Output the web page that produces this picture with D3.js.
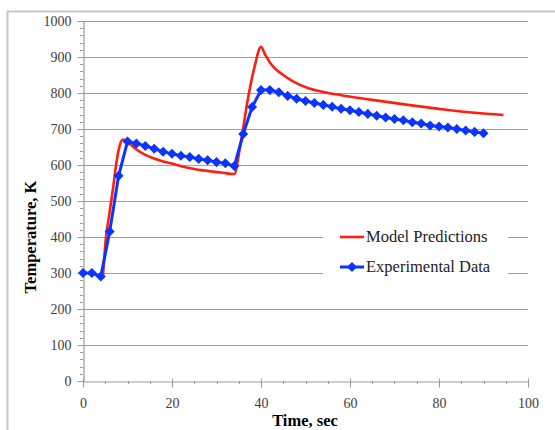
<!DOCTYPE html>
<html>
<head>
<meta charset="utf-8">
<script src="https://cdn.jsdelivr.net/npm/d3@7"></script>
<style>
  body { margin: 0; background: #fff; }
</style>
</head>
<body>
<svg id="chart" width="555" height="430"></svg>
<script>
// experimental data, one point every 2 s
let exp_time = [0, 2, 4, 6, 8, 10, 12, 14, 16, 18, 20, 22, 24, 26, 28, 30, 32, 34, 36, 38,
    40, 42, 44, 46, 48, 50, 52, 54, 56, 58, 60, 62, 64, 66, 68, 70, 72, 74, 76, 78,
    80, 82, 84, 86, 88, 90]
let exp_temp = [300, 300, 290, 415, 570, 665, 660, 653, 645, 637, 631, 626, 622, 617, 613, 608, 605, 597, 686, 761,
    808, 808, 802, 792, 784, 778, 772, 767, 762, 756, 752, 747, 742, 737, 732, 728, 724, 719, 715, 710,
    707, 704, 700, 696, 692, 688]

// model curve
let model_time = [4.5, 5.1, 6.0, 6.8, 7.6, 8.3, 8.9, 10, 12, 14, 16, 18, 20, 23, 27, 31, 34,
    35.3, 37, 38.5, 40, 41, 42, 43, 45, 47.5, 50.5, 54, 58, 65, 73, 80, 88, 94.5]
let model_temp = [293, 392, 470, 540, 614, 656, 671, 664, 643, 628, 618, 610, 604, 594, 585, 579, 575,
    650, 780, 870, 928, 905, 885, 870, 850, 830, 814, 803, 794, 781, 767, 756, 745, 739]

let x_ticks = [0, 20, 40, 60, 80, 100]
let y_ticks = [0, 100, 200, 300, 400, 500, 600, 700, 800, 900, 1000]
let legend_labels = ["Model Predictions", "Experimental Data"]

const RED = "#ff1f10"
const BLUE = "#0b35ff"
const SERIF = "'Liberation Serif', 'Times New Roman', Times, serif"

let svg = d3.select("#chart")

// outer frame
svg.append("rect")
    .attr("x", 7.5).attr("y", 11.5)
    .attr("width", 600).attr("height", 500)
    .attr("fill", "none")
    .attr("stroke", "#c8c8c8")
    .attr("stroke-width", 2)

let x = d3.scaleLinear().domain([0, 100]).range([83, 528])
let y = d3.scaleLinear().domain([0, 1000]).range([381, 21])

// horizontal grid
svg.append("g")
    .selectAll("line")
    .data(y_ticks.slice(1))
    .join("line")
    .attr("x1", x(0)).attr("x2", x(100))
    .attr("y1", d => Math.round(y(d)) + 0.5)
    .attr("y2", d => Math.round(y(d)) + 0.5)
    .attr("stroke", "#a0a0a0")
    .attr("stroke-width", 1.2)

// minor ticks
let y_minor = d3.range(0, 1001, 20)
svg.append("g")
    .selectAll("line")
    .data(y_minor)
    .join("line")
    .attr("x1", x(0) - 3).attr("x2", x(0))
    .attr("y1", d => Math.round(y(d)) + 0.5)
    .attr("y2", d => Math.round(y(d)) + 0.5)
    .attr("stroke", "#999")
let x_minor = d3.range(0, 101, 5)
svg.append("g")
    .selectAll("line")
    .data(x_minor)
    .join("line")
    .attr("x1", d => Math.round(x(d)) + 0.5)
    .attr("x2", d => Math.round(x(d)) + 0.5)
    .attr("y1", y(0)).attr("y2", y(0) + 3)
    .attr("stroke", "#999")

// axes
let x_axis = d3.axisBottom(x).tickValues(x_ticks).tickFormat(d3.format("d"))
    .tickSize(6).tickSizeOuter(0).tickPadding(11)
let y_axis = d3.axisLeft(y).tickValues(y_ticks).tickFormat(d3.format("d"))
    .tickSize(6).tickSizeOuter(0).tickPadding(6)

let gx = svg.append("g")
    .attr("transform", "translate(0," + (Math.round(y(0)) + 0.5) + ")")
    .call(x_axis)
gx.select(".domain").attr("stroke", "#999").attr("stroke-width", 1.2)
gx.selectAll(".tick line").attr("stroke", "#999").attr("y1", -3)
gx.selectAll(".tick text")
    .attr("fill", "#404040")
    .style("font-family", SERIF)
    .style("font-size", "14px")

let gy = svg.append("g")
    .attr("transform", "translate(" + (Math.round(x(0)) + 0.5) + ",0)")
    .call(y_axis)
gy.select(".domain").attr("stroke", "#999").attr("stroke-width", 1.2)
gy.selectAll(".tick line").attr("stroke", "#999")
gy.selectAll(".tick text")
    .attr("fill", "#404040")
    .style("font-family", SERIF)
    .style("font-size", "14px")

// axis titles
svg.append("text")
    .attr("x", 305).attr("y", 426)
    .attr("text-anchor", "middle")
    .style("font-family", SERIF)
    .style("font-size", "16.5px").style("font-weight", "bold")
    .text("Time, sec")
svg.append("text")
    .attr("transform", "translate(36,237) rotate(-90)")
    .attr("text-anchor", "middle")
    .style("font-family", SERIF)
    .style("font-size", "16.5px").style("font-weight", "bold")
    .text("Temperature, K")

// legend box (white, hides grid)
svg.append("rect")
    .attr("x", 323).attr("y", 222)
    .attr("width", 185).attr("height", 62)
    .attr("fill", "#fff")

let model = model_time.map((t, i) => [t, model_temp[i]])
let exp = exp_time.map((t, i) => [t, exp_temp[i]])

let smooth_line = d3.line()
    .x(d => x(d[0])).y(d => y(d[1]))
    .curve(d3.curveMonotoneX)
let straight_line = d3.line()
    .x(d => x(d[0])).y(d => y(d[1]))

svg.append("path")
    .attr("d", smooth_line(model))
    .attr("fill", "none")
    .attr("stroke", RED)
    .attr("stroke-width", 2.6)

svg.append("path")
    .attr("d", straight_line(exp))
    .attr("fill", "none")
    .attr("stroke", BLUE)
    .attr("stroke-width", 3)

let diamond = d3.symbol().type(d3.symbolDiamond2).size(64)
svg.append("g")
    .selectAll("path")
    .data(exp)
    .join("path")
    .attr("transform", d => "translate(" + x(d[0]) + "," + y(d[1]) + ")")
    .attr("d", diamond)
    .attr("fill", BLUE)

// legend entries
let legend_y = [237, 267]
let legend_colors = [RED, BLUE]
for (let i = 0; i < legend_labels.length; i++) {
    svg.append("line")
        .attr("x1", 340).attr("x2", 364)
        .attr("y1", legend_y[i]).attr("y2", legend_y[i])
        .attr("stroke", legend_colors[i])
        .attr("stroke-width", i == 0 ? 2.6 : 3)
    if (i == 1) {
        svg.append("path")
            .attr("transform", "translate(352," + legend_y[i] + ")")
            .attr("d", diamond)
            .attr("fill", BLUE)
    }
    svg.append("text")
        .attr("x", 366).attr("y", legend_y[i] + 5)
        .style("font-family", SERIF)
        .style("font-size", "16.5px")
        .attr("fill", "#222")
        .text(legend_labels[i])
}
</script>
</body>
</html>
